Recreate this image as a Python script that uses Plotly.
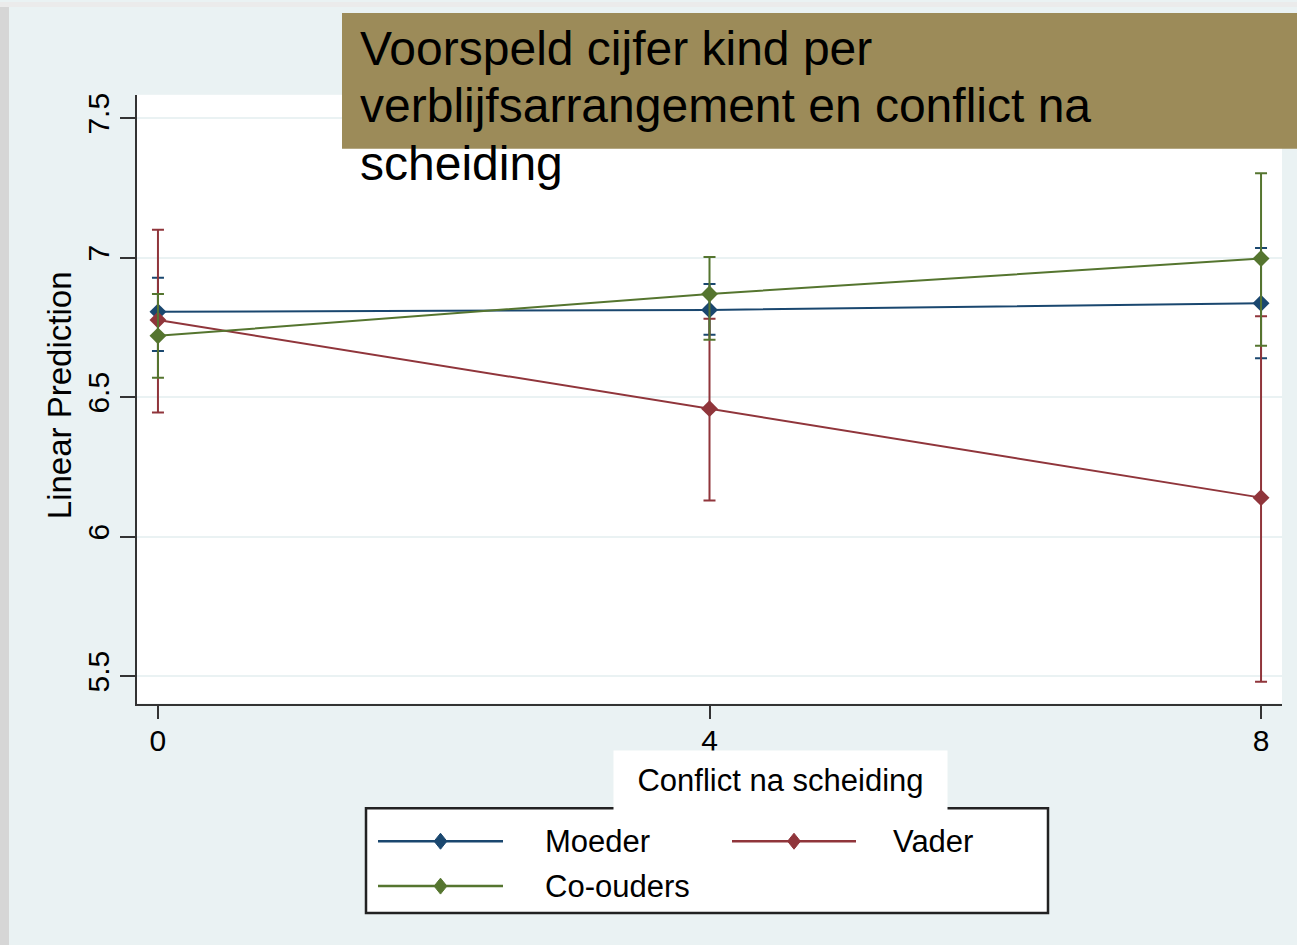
import plotly.graph_objects as go

# ---------------- data ----------------
conflict = [0, 4, 8]
series_names = ["Moeder", "Vader", "Co-ouders"]
series_colors = ["#1A476F", "#90353B", "#55752F"]

moeder_pred = [6.806, 6.813, 6.837]
moeder_lo = [6.666, 6.724, 6.640]
moeder_hi = [6.928, 6.906, 7.035]

vader_pred = [6.777, 6.459, 6.140]
vader_lo = [6.445, 6.130, 5.480]
vader_hi = [7.100, 6.781, 6.790]

coouders_pred = [6.720, 6.870, 6.997]
coouders_lo = [6.570, 6.706, 6.684]
coouders_hi = [6.870, 7.003, 7.303]

x_ticks = [0, 4, 8]
y_ticks = [5.5, 6, 6.5, 7, 7.5]
y_ticktext = ["5.5", "6", "6.5", "7", "7.5"]

title_lines = ["Voorspeld cijfer kind per", "verblijfsarrangement en conflict na", "scheiding"]
x_title = "Conflict na scheiding"
y_title = "Linear Prediction"

# ---------------- layout helpers ----------------
W, H = 1297, 945
FONT = "Arial, Liberation Sans, sans-serif"
BG = "#EAF2F3"


def px(x):
    return x / W


def py(y):
    return 1 - y / H


fig = go.Figure()

preds = [moeder_pred, vader_pred, coouders_pred]
los = [moeder_lo, vader_lo, coouders_lo]
his = [moeder_hi, vader_hi, coouders_hi]

for name, color, p, lo, hi in zip(series_names, series_colors, preds, los, his):
    fig.add_trace(go.Scatter(
        x=conflict, y=p, name=name, mode="lines+markers",
        line=dict(color=color, width=2),
        marker=dict(symbol="diamond", size=13, color=color),
        error_y=dict(type="data", symmetric=False,
                     array=[h - v for h, v in zip(hi, p)],
                     arrayminus=[v - l for v, l in zip(p, lo)],
                     color=color, thickness=2, width=6),
        showlegend=False,
    ))

shapes = []
annotations = []

# outer decorations (slide edge)
shapes.append(dict(type="rect", xref="paper", yref="paper", x0=0, x1=px(9), y0=0, y1=1,
                   fillcolor="#D6D6D6", line=dict(width=0), layer="below"))
shapes.append(dict(type="rect", xref="paper", yref="paper", x0=0, x1=1, y0=py(5), y1=1,
                   fillcolor="#EBEBEB", line=dict(width=0), layer="below"))

# title box
shapes.append(dict(type="rect", xref="paper", yref="paper", x0=px(342), x1=1, y0=py(147), y1=py(11),
                   fillcolor="#9C8B59", line=dict(width=0), layer="above"))
for line_txt, cy in zip(title_lines, [47, 104, 162]):
    annotations.append(dict(text=line_txt, xref="paper", yref="paper", x=px(358), y=py(cy),
                            xanchor="left", yanchor="middle", showarrow=False,
                            font=dict(family=FONT, size=48, color="#000000")))

# legend box
shapes.append(dict(type="rect", xref="paper", yref="paper", x0=px(366), x1=px(1048), y0=py(913), y1=py(808),
                   fillcolor="#FFFFFF", line=dict(color="#222222", width=2.5), layer="above"))

legend_items = [(series_names[0], series_colors[0], 378, 503, 841, 543),
                (series_names[1], series_colors[1], 732, 856, 841, 891),
                (series_names[2], series_colors[2], 378, 503, 886, 543)]
for name, color, lx0, lx1, ly, tx in legend_items:
    shapes.append(dict(type="line", xref="paper", yref="paper", x0=px(lx0), x1=px(lx1), y0=py(ly), y1=py(ly),
                       line=dict(color=color, width=2.5), layer="above"))
    cx = (lx0 + lx1) / 2
    d = 8
    path = "M {},{} L {},{} L {},{} L {},{} Z".format(
        px(cx), py(ly - d), px(cx + d * 0.8), py(ly), px(cx), py(ly + d), px(cx - d * 0.8), py(ly))
    shapes.append(dict(type="path", xref="paper", yref="paper", path=path,
                       fillcolor=color, line=dict(color=color, width=1), layer="above"))
    annotations.append(dict(text=name, xref="paper", yref="paper", x=px(tx), y=py(ly),
                            xanchor="left", yanchor="middle", showarrow=False,
                            font=dict(family=FONT, size=31, color="#000000")))

# x-axis title (white box)
annotations.append(dict(text=x_title, xref="paper", yref="paper", x=px(780.5), y=py(780.5),
                        xanchor="center", yanchor="middle", showarrow=False,
                        width=333, height=59, borderpad=0, bgcolor="#FFFFFF",
                        font=dict(family=FONT, size=31, color="#000000")))

# y-axis title
annotations.append(dict(text=y_title, xref="paper", yref="paper", x=px(59), y=py(394),
                        xanchor="center", yanchor="middle", showarrow=False, textangle=-90,
                        font=dict(family=FONT, size=33, color="#000000")))

fig.update_layout(
    width=W, height=H,
    margin=dict(l=0, r=0, t=0, b=0),
    paper_bgcolor=BG, plot_bgcolor="#FFFFFF",
    showlegend=False,
    shapes=shapes, annotations=annotations,
    font=dict(family=FONT, color="#000000"),
    xaxis=dict(domain=[px(137), px(1282)], range=[-0.152, 8.152],
               tickvals=x_ticks, ticks="outside", ticklen=13, tickwidth=2, tickcolor="#333333",
               showline=True, linecolor="#333333", linewidth=2, showgrid=False, zeroline=False,
               tickfont=dict(family=FONT, size=30, color="#000000"), ticklabelstandoff=-4),
    yaxis=dict(domain=[py(703), py(93)], range=[5.402, 7.584],
               tickvals=y_ticks, ticktext=y_ticktext, tickangle=-90,
               ticks="outside", ticklen=15, tickwidth=2, tickcolor="#333333",
               showline=True, linecolor="#333333", linewidth=2,
               showgrid=True, gridcolor=BG, gridwidth=2, zeroline=False,
               tickfont=dict(family=FONT, size=30, color="#000000"), ticklabelstandoff=-1),
)

fig.write_html("out.html", config={"displayModeBar": False},
               post_script="document.body.style.margin='0px';")
